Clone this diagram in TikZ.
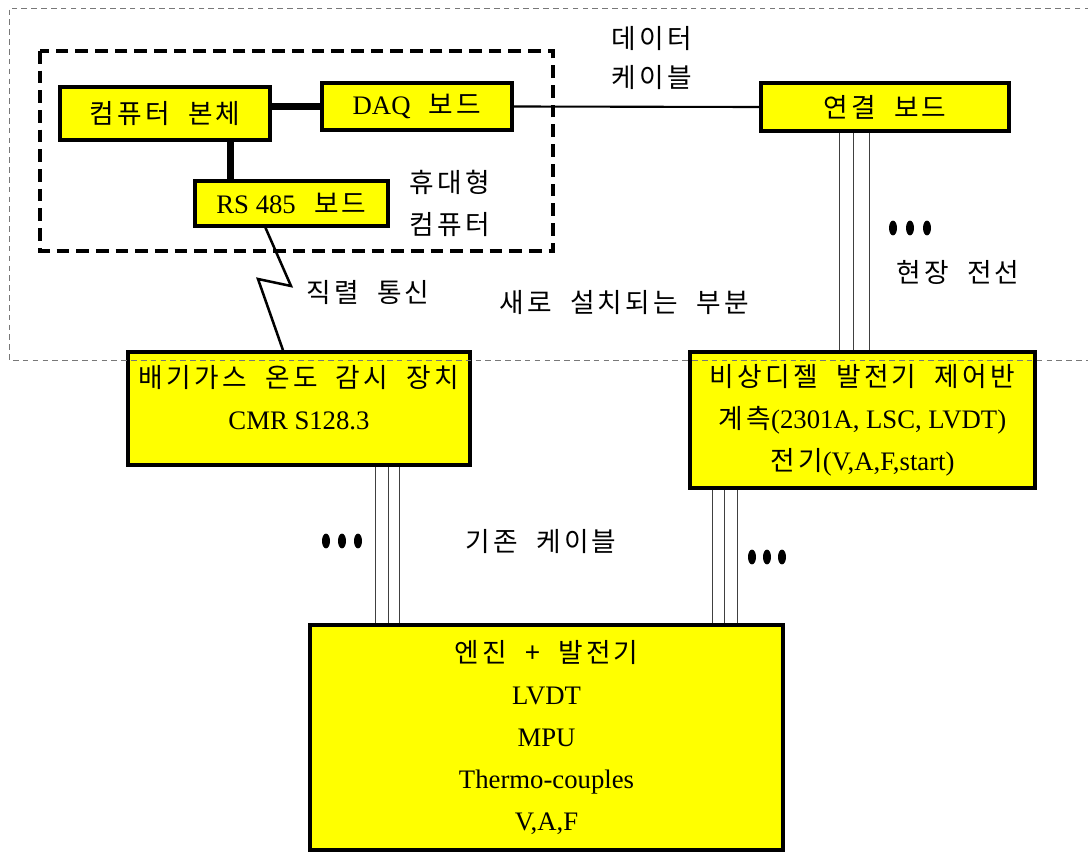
\documentclass[tikz,border=0pt]{standalone}
\usepackage{fontspec}
\setmainfont{Liberation Serif}
\newfontfamily\kr{Noto Sans CJK KR}[LetterSpace=12, WordSpace=2]
\usetikzlibrary{positioning, calc}
\definecolor{boxyellow}{RGB}{255,255,0}
\definecolor{zonegray}{RGB}{120,120,120}

\begin{document}
\begin{tikzpicture}[
    x=0.025cm, y=-0.025cm,
    every node/.style={font=\fontsize{19}{30}\selectfont, align=center, inner sep=3pt},
    box/.style={draw, line width=2.5pt, fill=boxyellow},
    bus/.style={line width=5pt},
    cable/.style={line width=1.5pt},
    wire/.style={line width=0.6pt, color=black!75},
    zone/.style={line width=0.6pt, color=zonegray, dash pattern=on 4pt off 3pt},
    portable/.style={line width=2.3pt, dash pattern=on 9pt off 5pt},
    serial/.style={line width=1.8pt},
  ]
  \useasboundingbox (0,0) rectangle (1088,854);

  % Portable computer
  \node[box, minimum width=5.25cm, minimum height=1.325cm] (pc) at (165,113.5) {\kr 컴퓨터 본체};
  \node[box, minimum width=4.75cm, minimum height=1.175cm] (daq) at (417,106.5) {DAQ{\kr\ 보드}};
  \node[box, minimum width=4.825cm, minimum height=1.125cm] (rs) at (291.5,203.5) {RS 485{\kr\ 보드}};
  \node (portlbl) at (450,203) {{\kr 휴대형}\\{\kr 컴퓨터}};
  \draw[portable] (40,51) rectangle (553,251);

  % Field side
  \node[box, minimum width=6.2cm, minimum height=1.2cm] (link) at (885,107) {\kr 연결 보드};
  \node[box, minimum width=8.55cm, minimum height=2.825cm] (cmr) at (299,408.5) {};
  \node[anchor=north] (cmrtxt) at ([yshift=-7.5pt]cmr.north) {{\kr 배기가스 온도 감시 장치}\\CMR S128.3};
  \node[box, minimum width=8.625cm, minimum height=3.4cm] (ctrl) at (862.5,420)
    {{\kr 비상디젤 발전기 제어반}\\{\kr 계측}(2301A, LSC, LVDT)\\{\kr 전기}(V,A,F,start)};
  \node[box, minimum width=11.825cm, minimum height=5.625cm] (eng) at (546.5,737.5)
    {{\kr 엔진 + 발전기}\\LVDT\\MPU\\Thermo-couples\\V,A,F};

  % Labels
  \node (datalbl) at (652,58) {{\kr 데이터}\\[-2pt]{\kr 케이블}};
  \node (serlbl) at (368,292) {\kr 직렬 통신};
  \node (newlbl) at (624,303) {\kr 새로 설치되는 부분};
  \node (fieldlbl) at (958,272) {\kr 현장 전선};
  \node (oldlbl) at (541,542) {\kr 기존 케이블};

  % Connections
  \draw[bus] (daq.west) -- (daq.west -| pc.east);
  \draw[bus] ([xshift=1.625cm]pc.south) coordinate (pcdown) -- (pcdown |- rs.north);
  \draw[cable] (daq.east) -- (link.west);
  \coordinate (z1) at (291,286);
  \coordinate (z2) at (258,279);
  \draw[serial] ([xshift=-0.65cm]rs.south) -- (z1) -- (z2) -- ([xshift=-0.4cm]cmr.north);

  % Wire bundles
  \foreach \dx in {-46,-32,-16}
    \draw[wire] ([xshift=\dx*0.025cm]link.south) coordinate (w) -- (w |- ctrl.north);
  \foreach \dx in {76,89,100}
    \draw[wire] ([xshift=\dx*0.025cm]cmr.south) coordinate (w) -- (w |- eng.north);
  \foreach \dx in {-150.5,-138.5,-125.5}
    \draw[wire] ([xshift=\dx*0.025cm]ctrl.south) coordinate (w) -- (w |- eng.north);
  \foreach \cx/\cy in {893/228, 910/228, 927/228, 326/541, 342/541, 358/541, 752/557, 767/557, 782/557}
    \fill (\cx,\cy) ellipse [x radius=0.1cm, y radius=0.185cm];

  % New installation zone
  \draw[zone] (1100,8) -| (9,360) -- (1100,360);
\end{tikzpicture}
\end{document}
